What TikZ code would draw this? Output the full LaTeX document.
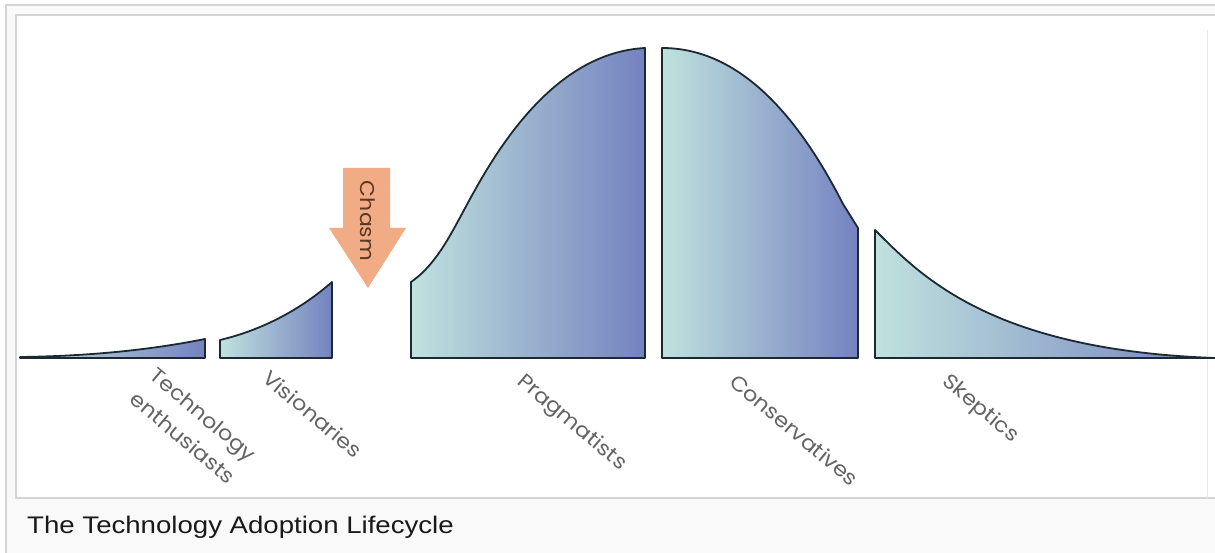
\documentclass[tikz,border=0pt]{standalone}
\usepackage{fontspec}
\newfontfamily\lblfont[FakeStretch=1.1]{Poppins}
\newfontfamily\capfont[FakeStretch=1.15]{Liberation Sans}

\definecolor{tealA}{RGB}{192,226,222}
\definecolor{blueA}{RGB}{116,130,192}
\definecolor{edgeC}{RGB}{28,40,50}
\definecolor{lblC}{RGB}{100,100,100}
\definecolor{chasmC}{RGB}{241,172,134}
\definecolor{chasmT}{RGB}{90,56,36}
\definecolor{frameC}{RGB}{212,212,212}
\definecolor{paneC}{RGB}{249,249,249}

\tikzset{
  segment/.style={draw=edgeC, line width=1.8pt, line join=round,
                  left color=tealA, right color=blueA},
  lbl/.style={rotate=-40, anchor=north west, inner sep=0pt, align=left,
              text=lblC, font=\lblfont\fontsize{20.5}{31}\selectfont},
}

\begin{document}
\begin{tikzpicture}[x=1pt, y=-1pt]
  \useasboundingbox (0,0) rectangle (1215,553);

  % page and frame
  \fill[white] (0,0) rectangle (1215,553);
  \fill[paneC] (6,5) rectangle (1215,553);
  \draw[frameC, line width=1.5pt] (6,553) -- (6,5) -- (1215,5);
  \fill[white] (16,15) rectangle (1215,498);
  \draw[frameC, line width=1.5pt] (1215,15) -- (16,15) -- (16,498) -- (1215,498);
  \draw[frameC!50, line width=1pt] (1207,30) -- (1207,498);

  % adopter segments
  \draw[segment] (20,358) -- (205,358) -- (205,339)
      .. controls (160,348) and (100,356) .. (20,357) -- cycle;
  \draw[segment] (220,358) -- (332,358) -- (332,282)
      .. controls (300,310) and (262,330) .. (220,340) -- cycle;
  \draw[segment] (411,358) -- (645,358) -- (645,48)
      .. controls (570,52) and (515,118) .. (475,190)
      .. controls (455,225) and (440,262) .. (411,282) -- cycle;
  \draw[segment] (662,358) -- (858,358) -- (858,228) -- (843,204)
      .. controls (790,100) and (730,48) .. (662,48) -- cycle;
  \draw[segment] (875,358) -- (1215,358)
      .. controls (990,350) and (920,275) .. (875,230) -- cycle;

  % chasm arrow
  \fill[chasmC] (343,168) -- (390,168) -- (390,228) -- (406,228)
      -- (368,288) -- (329,228) -- (343,228) -- cycle;
  \node[rotate=-90, inner sep=0pt, text=chasmT,
        font=\lblfont\fontsize{20}{24}\selectfont] (chasm) at (368,221) {Chasm};

  % segment labels
  \node[lbl] (tech) at (158,366) {Technology\\enthusiasts};
  \node[lbl] (vis)  at (271,368) {Visionaries};
  \node[lbl] (prag) at (526,371) {Pragmatists};
  \node[lbl] (cons) at (738,372) {Conservatives};
  \node[lbl] (skep) at (951,371) {Skeptics};

  % caption
  \node[anchor=base west, inner sep=0pt, text=black!90,
        font=\capfont\fontsize{24}{28}\selectfont] (caption) at (27,533)
        {The Technology Adoption Lifecycle};
\end{tikzpicture}
\end{document}
